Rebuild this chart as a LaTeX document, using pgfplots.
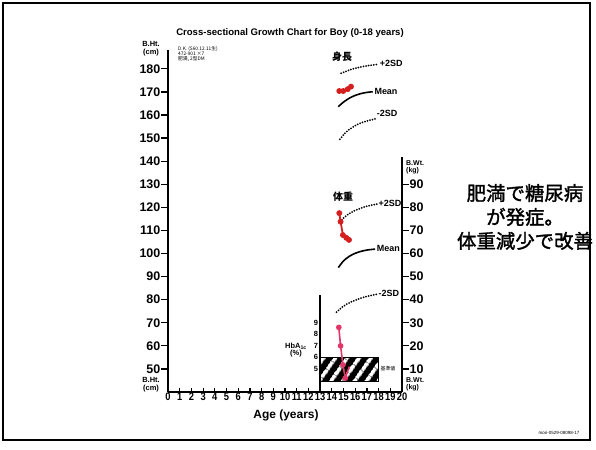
\documentclass[border=0pt]{standalone}
\usepackage{pgfplots}
\pgfplotsset{compat=1.18}
\usepackage{fontspec}
\setmainfont{Liberation Sans}
\newfontfamily\jp{Noto Sans CJK JP}
\newfontfamily\jpm{Noto Sans CJK JP}[FakeBold=1.6]
\usetikzlibrary{patterns.meta}

\definecolor{ptred}{HTML}{D41F1F}
\definecolor{hbpink}{HTML}{E23668}

\newcommand{\fs}[1]{\fontsize{#1}{#1}\selectfont}

\pgfplotsset{
  frameaxis/.style={
    at={(168bp,58bp)}, anchor=south west, scale only axis,
    width=234bp, height=341.6bp, xmin=0, xmax=20, clip=false,
    axis line style={-, line width=1.8bp},
    tick style={line width=1.2bp, black},
    /pgf/number format/assume math mode=true,
  },
  sdline/.style={black, line width=2bp, dash pattern=on 0bp off 2.6bp, line cap=round, smooth},
  meanline/.style={black, line width=1.6bp, smooth},
  obs/.style={ptred, line width=1.8bp, mark=*, mark size=2bp, mark options={solid}},
}
\tikzset{sdlab/.style={font=\bfseries\fs{9}, anchor=west, inner sep=1bp}}

\begin{document}
\begin{tikzpicture}[x=1bp, y=1bp]
\useasboundingbox (0,0) rectangle (596,450);

% ---------- height (cm) ----------
\begin{axis}[frameaxis, ymin=40, ymax=188,
  axis x line=none, axis y line*=left,
  ytick={50,60,...,180}, tick align=outside, major tick length=7bp,
  yticklabel style={font=\bfseries\fs{12.5}, inner sep=0.5bp},
]
\addplot[sdline] coordinates {(14.8,178.1) (15.5,179.5) (16.2,180.5) (17.0,181.3) (18.0,182.0)};
\addplot[meanline] coordinates {(14.55,163.6) (15.0,165.6) (15.5,167.3) (16.0,168.5) (16.5,169.3) (17.0,169.8) (17.5,170.1)};
\addplot[sdline] coordinates {(14.7,149.5) (15.2,152.5) (15.8,154.8) (16.5,156.6) (17.2,157.7) (17.7,158.3)};
\addplot[obs] coordinates {(14.64,170.4) (14.98,170.4) (15.36,171.2) (15.64,172.3)};
\node[sdlab] at (axis cs:18.0,182.3) {+2SD};
\node[sdlab] at (axis cs:17.55,170.3) {Mean};
\node[sdlab] at (axis cs:17.75,160.6) {-2SD};
\end{axis}

% ---------- weight (kg) ----------
\begin{axis}[frameaxis, ymin=0, ymax=148,
  axis x line=none, axis y line*=right, y axis line style={draw=none},
  ytick={10,20,...,90}, tick align=outside, major tick length=7bp,
  yticklabel style={font=\bfseries\fs{12.5}, inner sep=0.5bp},
]
\draw[line width=1.8bp] (axis cs:20,0) -- (axis cs:20,102);
\addplot[sdline] coordinates {(14.7,73.8) (15.2,76.2) (15.8,78.2) (16.3,79.3) (17.0,80.5) (17.85,81.4)};
\addplot[meanline] coordinates {(14.56,53.9) (15.0,56.8) (15.5,58.8) (16.0,60.1) (16.4,60.8) (17.0,61.5) (17.7,61.9)};
\addplot[sdline] coordinates {(14.4,34.6) (15.0,37.2) (15.6,38.9) (16.1,39.9) (16.8,41.2) (17.9,42.4)};
\addplot[obs] coordinates {(14.64,77.5) (14.75,73.8) (14.95,68.0) (15.24,66.8) (15.47,65.9)};
\node[sdlab] at (axis cs:17.9,81.7) {+2SD};
\node[sdlab] at (axis cs:17.75,62.0) {Mean};
\node[sdlab] at (axis cs:17.9,42.9) {-2SD};
\end{axis}

% ---------- age axis ----------
\begin{axis}[frameaxis, ymin=40, ymax=188,
  axis y line=none, axis x line*=bottom,
  xtick={0,...,20}, tick align=inside, major tick length=4bp,
  xticklabel style={font=\bfseries\fs{11}, inner sep=1bp, xscale=0.85},
]
\end{axis}

% ---------- HbA1c (%) ----------
\begin{axis}[at={(320.1bp,58bp)}, anchor=south west, scale only axis,
  width=81.9bp, height=96.9bp, xmin=13, xmax=20, ymin=3, ymax=11.4, clip=false,
  axis x line=none, axis y line*=left, axis line style={-, line width=1.3bp},
  ytick={5,...,9}, major tick length=0bp,
  yticklabel style={font=\bfseries\fs{7.5}, inner sep=2bp},
  /pgf/number format/assume math mode=true,
]
\addplot[draw=black, fill=black,
  postaction={pattern={Lines[angle=55, distance=10bp, line width=4bp]}, pattern color=white}]
  coordinates {(13,3.9) (18,3.9) (18,6.0) (13,6.0)} -- cycle;
\addplot[hbpink, line width=1.6bp, mark=*, mark size=2bp] coordinates {(14.6,8.6) (14.75,7.0) (14.95,5.35) (15.15,4.2)};
\addplot[hbpink, line width=1.6bp] coordinates {(15.15,4.2) (15.5,5.2)};
\end{axis}

% ---------- labels ----------
\node[font=\bfseries\fs{9.6}] at (290,417) {Cross-sectional Growth Chart for Boy (0-18 years)};
\node[font=\bfseries\fs{7.5}, align=center] at (151,401.5) {B.Ht.\\(cm)};
\node[font=\bfseries\fs{7.5}, align=center] at (151,65.5) {B.Ht.\\(cm)};
\node[font=\bfseries\fs{7}, align=left, anchor=west, inner sep=0bp] at (406,283) {B.Wt.\\(kg)};
\node[font=\bfseries\fs{7}, align=left, anchor=west, inner sep=0bp] at (406,66) {B.Wt.\\(kg)};
\node[font=\bfseries\fs{7.5}, align=center] at (296,100) {HbA\textsubscript{1c}\\(\%)};
\node[font=\jp\fs{5}, inner sep=0.5bp] at (388,81) {基準値};
\node[font=\bfseries\fs{12}] at (286,35) {Age (years)};
\node[font=\jp\bfseries\fs{10}] at (342,393) {身長};
\node[font=\jp\bfseries\fs{10}] at (343,253) {体重};
\node[font=\jp\fs{4.8}, anchor=west, align=left, inner sep=0bp] at (178,396) {D.K. (S60.12.11生)\\472-901 ×7\\肥満, 2型DM};
\node[font=\jpm\fontsize{19.5}{24}\selectfont, align=center] at (525,233) {肥満で糖尿病\\が発症。\\体重減少で改善};
\node[font=\fs{4.5}] at (559,17) {mori-0529-08098-17};

% slide frame
\draw[line width=2.5bp] (3,10) rectangle (590,447);
\end{tikzpicture}
\end{document}
